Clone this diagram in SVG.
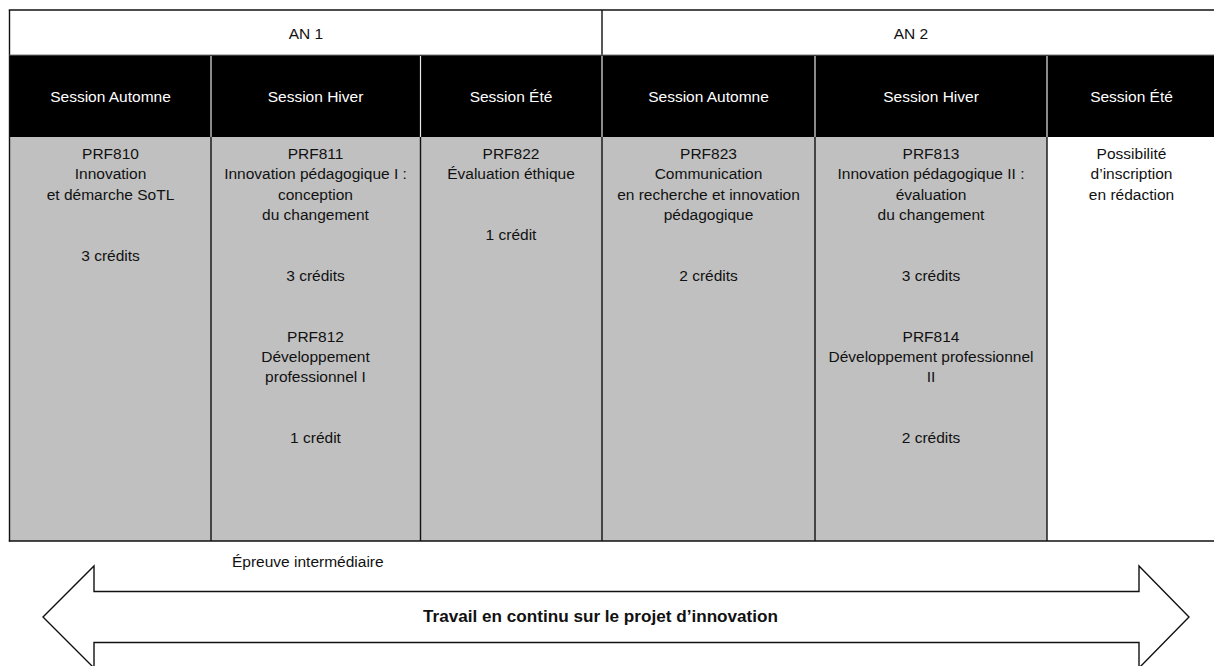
<svg xmlns="http://www.w3.org/2000/svg" width="1214" height="666" viewBox="0 0 1214 666">
<style>
  .t { font-family: "Liberation Sans", Arial, sans-serif; font-size: 15.5px; fill: #111; text-anchor: middle; }
  .h { font-family: "Liberation Sans", Arial, sans-serif; font-size: 15.5px; fill: #fff; text-anchor: middle; }
  .b { font-family: "Liberation Sans", Arial, sans-serif; font-size: 17px; font-weight: bold; fill: #111; text-anchor: middle; }
  .grid { stroke: #111; stroke-width: 1.4; fill: none; }
  .sep { stroke: #e8e8e8; stroke-width: 1.2; }
  .gray { fill: #c0c0c0; }
</style>
<rect x="0" y="0" width="1214" height="666" fill="#fff"/>

<g id="year-row">
  <rect x="9.5" y="10" width="1210" height="45" fill="#fff"/>
  <g id="an1"><text class="t" x="306" y="39">AN 1</text></g>
  <g id="an2"><text class="t" x="911" y="39">AN 2</text></g>
</g>

<g id="session-row">
  <rect x="9.5" y="55" width="1210" height="82" fill="#000"/>
  <line class="sep" x1="211" y1="56" x2="211" y2="137"/>
  <line class="sep" x1="420.5" y1="56" x2="420.5" y2="137"/>
  <line class="sep" x1="602" y1="56" x2="602" y2="137"/>
  <line class="sep" x1="815" y1="56" x2="815" y2="137"/>
  <line class="sep" x1="1047" y1="56" x2="1047" y2="137"/>
  <g id="h1"><text class="h" x="110.5" y="102">Session Automne</text></g>
  <g id="h2"><text class="h" x="315.5" y="102">Session Hiver</text></g>
  <g id="h3"><text class="h" x="511" y="102">Session Été</text></g>
  <g id="h4"><text class="h" x="708.5" y="102">Session Automne</text></g>
  <g id="h5"><text class="h" x="931" y="102">Session Hiver</text></g>
  <g id="h6"><text class="h" x="1131.5" y="102">Session Été</text></g>
</g>

<g id="course-row">
  <rect class="gray" x="9.5" y="137" width="1037.5" height="404"/>
  <g id="c1">
    <text class="t" x="110.5" y="159">PRF810</text>
    <text class="t" x="110.5" y="179.3">Innovation</text>
    <text class="t" x="110.5" y="199.6">et démarche SoTL</text>
    <text class="t" x="110.5" y="260.5">3 crédits</text>
  </g>
  <g id="c2">
    <text class="t" x="315.5" y="159">PRF811</text>
    <text class="t" x="315.5" y="179.3">Innovation pédagogique I :</text>
    <text class="t" x="315.5" y="199.6">conception</text>
    <text class="t" x="315.5" y="219.9">du changement</text>
    <text class="t" x="315.5" y="280.8">3 crédits</text>
    <text class="t" x="315.5" y="341.7">PRF812</text>
    <text class="t" x="315.5" y="362">Développement</text>
    <text class="t" x="315.5" y="382.3">professionnel I</text>
    <text class="t" x="315.5" y="443.2">1 crédit</text>
  </g>
  <g id="c3">
    <text class="t" x="511" y="159">PRF822</text>
    <text class="t" x="511" y="179.3">Évaluation éthique</text>
    <text class="t" x="511" y="240.2">1 crédit</text>
  </g>
  <g id="c4">
    <text class="t" x="708.5" y="159">PRF823</text>
    <text class="t" x="708.5" y="179.3">Communication</text>
    <text class="t" x="708.5" y="199.6">en recherche et innovation</text>
    <text class="t" x="708.5" y="219.9">pédagogique</text>
    <text class="t" x="708.5" y="280.8">2 crédits</text>
  </g>
  <g id="c5">
    <text class="t" x="931" y="159">PRF813</text>
    <text class="t" x="931" y="179.3">Innovation pédagogique II :</text>
    <text class="t" x="931" y="199.6">évaluation</text>
    <text class="t" x="931" y="219.9">du changement</text>
    <text class="t" x="931" y="280.8">3 crédits</text>
    <text class="t" x="931" y="341.7">PRF814</text>
    <text class="t" x="931" y="362">Développement professionnel</text>
    <text class="t" x="931" y="382.3">II</text>
    <text class="t" x="931" y="443.2">2 crédits</text>
  </g>
  <g id="c6">
    <text class="t" x="1131.5" y="159">Possibilité</text>
    <text class="t" x="1131.5" y="179.3">d’inscription</text>
    <text class="t" x="1131.5" y="199.6">en rédaction</text>
  </g>
</g>

<g id="table-lines">
  <line class="grid" x1="8.8" y1="10" x2="1220" y2="10"/>
  <line class="grid" x1="9.5" y1="10" x2="9.5" y2="541.5"/>
  <line class="grid" x1="8.8" y1="541" x2="1220" y2="541"/>
  <line class="grid" x1="602" y1="10" x2="602" y2="55"/>
  <line x1="9.5" y1="55" x2="1220" y2="55" stroke="#777" stroke-width="1"/>
  <line class="grid" x1="211" y1="137" x2="211" y2="541"/>
  <line class="grid" x1="420.5" y1="137" x2="420.5" y2="541"/>
  <line class="grid" x1="602" y1="137" x2="602" y2="541"/>
  <line class="grid" x1="815" y1="137" x2="815" y2="541"/>
  <line class="grid" x1="1047" y1="137" x2="1047" y2="541"/>
</g>

<g id="milestone">
  <text class="t" x="232" y="567" style="text-anchor:start">Épreuve intermédiaire</text>
</g>

<g id="connectors">
  <polygon points="43,617 94,566 94,591.5 1139,591.5 1139,566 1189,617 1139,668 1139,642.5 94,642.5 94,668" fill="#fff" stroke="#111" stroke-width="1.4" stroke-linejoin="miter"/>
</g>
<g id="arrow-label">
  <text class="b" x="600.5" y="622" textLength="355" lengthAdjust="spacingAndGlyphs">Travail en continu sur le projet d’innovation</text>
</g>
</svg>
